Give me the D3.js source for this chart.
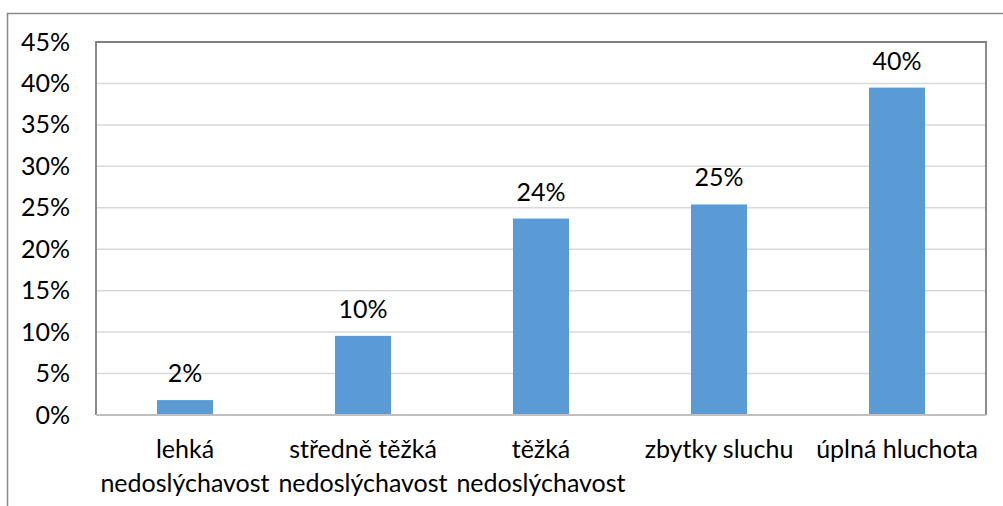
<!DOCTYPE html>
<html><head><meta charset="utf-8">
<script src="https://cdn.jsdelivr.net/npm/d3@7/dist/d3.min.js"></script>
<style>html,body{margin:0;padding:0;background:#fff;} svg{display:block;}</style>
</head><body>
<svg id="chart" width="1003" height="506"></svg>
<script>
const categories = [["lehká","nedoslýchavost"],["středně těžká","nedoslýchavost"],["těžká","nedoslýchavost"],["zbytky sluchu"],["úplná hluchota"]];
const values = [0.018, 0.0955, 0.237, 0.254, 0.395];
const valueLabels = ["2%","10%","24%","25%","40%"];
const yTicks = [0,0.05,0.10,0.15,0.20,0.25,0.30,0.35,0.40,0.45];

(function(){
const svg = d3.select("#chart");
const font = "Lato, 'Open Sans', sans-serif";
const fs = 25;
const pL = 96, pR = 986, pT = 42, pB = 415;

// outer frame
svg.append("path").attr("d", `M7.5,520 V13.5 H1010`).attr("fill","none").attr("stroke","#898989").attr("stroke-width",1.5);

const x = d3.scaleBand().domain(d3.range(categories.length)).range([pL, pR]).padding(0);
const y = d3.scaleLinear().domain([0, 0.45]).range([pB, pT]);
const barW = x.bandwidth() * 0.315;

// gridlines
svg.append("g").selectAll("line").data(yTicks.filter(t => t > 0 && t < 0.45)).join("line")
  .attr("x1", pL).attr("x2", pR).attr("y1", d => y(d)).attr("y2", d => y(d))
  .attr("stroke", "#d9d9d9").attr("stroke-width", 1.5);

// bars
svg.append("g").selectAll("rect").data(values).join("rect")
  .attr("x", (d,i) => x(i) + x.bandwidth()/2 - barW/2)
  .attr("width", barW)
  .attr("y", d => y(d))
  .attr("height", d => y(0) - y(d))
  .attr("fill", "#5b9bd5");

// plot frame
svg.append("path").attr("d", `M${pL},${pB} V${pT} H${pR} V${pB}`)
  .attr("fill","none").attr("stroke","#7f7f7f").attr("stroke-width",1.8);
svg.append("line").attr("x1", pL).attr("x2", pR).attr("y1", pB).attr("y2", pB)
  .attr("stroke","#c0c0c0").attr("stroke-width",2);

// y axis labels
const yAxis = d3.axisLeft(y).tickValues(yTicks).tickFormat(d3.format(".0%")).tickSize(0).tickPadding(26);
const ya = svg.append("g").attr("transform", `translate(${pL},0)`).call(yAxis);
ya.select(".domain").remove();
ya.selectAll("text").attr("font-family", font).attr("font-size", fs).attr("fill", "#000");

// value labels
svg.append("g").selectAll("text").data(values).join("text")
  .attr("x", (d,i) => x(i) + x.bandwidth()/2)
  .attr("y", d => y(d) - 18)
  .attr("text-anchor","middle").attr("font-family", font).attr("font-size", fs).attr("fill","#000")
  .text((d,i) => valueLabels[i]);

// category labels
const cg = svg.append("g").selectAll("text").data(categories).join("text")
  .attr("text-anchor","middle").attr("font-family", font).attr("font-size", fs).attr("fill","#000");
cg.each(function(lines, i) {
  const t = d3.select(this);
  lines.forEach((ln, j) => {
    t.append("tspan").attr("x", x(i) + x.bandwidth()/2).attr("y", 458 + j*34).text(ln);
  });
});
})();
</script>
</body></html>
